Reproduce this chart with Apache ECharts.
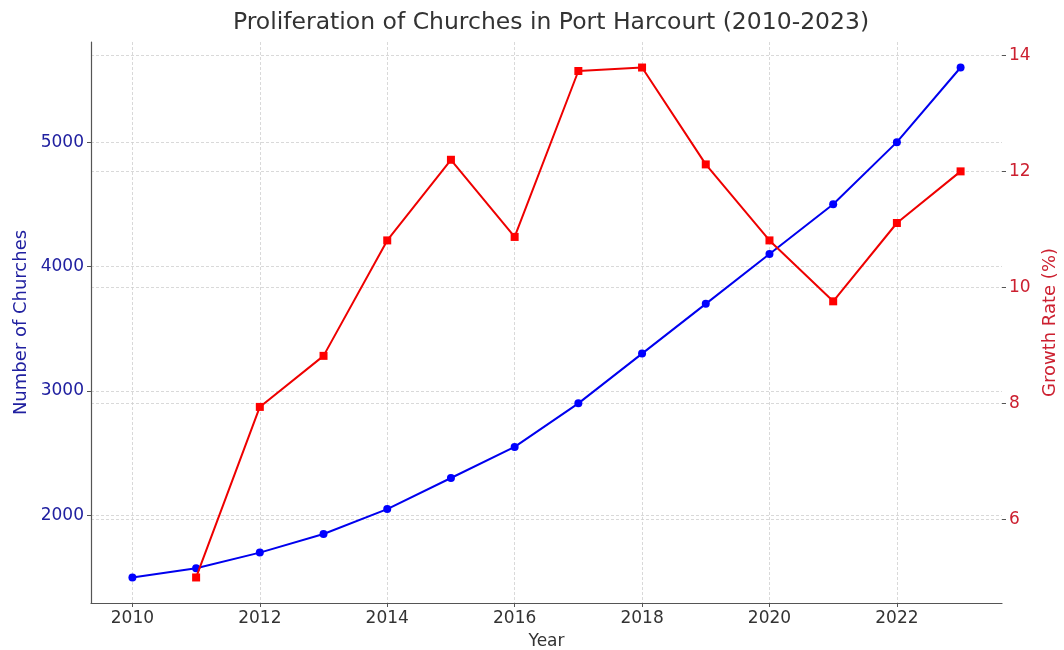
<!DOCTYPE html>
<html>
<head>
<meta charset="utf-8">
<script src="https://cdn.jsdelivr.net/npm/echarts@6/dist/echarts.min.js"></script>
<style>html,body{margin:0;padding:0;background:#fff}#c{width:1064px;height:650px}</style>
</head>
<body>
<div id="c"></div>
<script>
const years = [2010, 2011, 2012, 2013, 2014, 2015, 2016, 2017, 2018, 2019, 2020, 2021, 2022, 2023];
const churches = [1500, 1575, 1700, 1850, 2050, 2300, 2550, 2900, 3300, 3700, 4100, 4500, 5000, 5600];
const growthRate = [null, 5.0, 7.94, 8.82, 10.81, 12.20, 10.87, 13.73, 13.79, 12.12, 10.81, 9.76, 11.11, 12.0];
const xTicks = [2010, 2012, 2014, 2016, 2018, 2020, 2022];
const leftTicks = [2000, 3000, 4000, 5000];
const rightTicks = [6, 8, 10, 12, 14];

const font = 'DejaVu Sans';
const gridLine = { show: true, lineStyle: { color: '#cfcfcf', type: [3, 2], width: 0.8 } };

const chart = echarts.init(document.getElementById('c'), null, { renderer: 'canvas' });
chart.setOption({
  animation: false,
  backgroundColor: '#fff',
  title: {
    text: 'Proliferation of Churches in Port Harcourt (2010-2023)',
    left: 546, top: 6, textAlign: 'center',
    textStyle: { fontFamily: font, fontSize: 23.5, fontWeight: 'normal', color: '#333' }
  },
  grid: { left: 91, right: 62, top: 42, bottom: 47, containLabel: false, outerBoundsMode: 'none' },
  xAxis: {
    type: 'value', min: 2009.35, max: 2023.65,
    name: 'Year', nameLocation: 'middle', nameGap: 30,
    nameTextStyle: { fontFamily: font, fontSize: 17, color: '#333' },
    axisLine: { show: true, lineStyle: { color: '#555', width: 1.2 } },
    axisTick: { show: true, length: 4, inside: false, customValues: xTicks, lineStyle: { color: '#555' } },
    axisLabel: { customValues: xTicks, fontFamily: font, fontSize: 17, color: '#333', margin: 7,
      formatter: v => String(Math.round(v)) },
    splitLine: gridLine
  },
  yAxis: [
    {
      type: 'value', min: 1295, max: 5805, position: 'left',
      name: 'Number of Churches', nameLocation: 'middle', nameGap: 56, nameRotate: 90,
      nameTextStyle: { fontFamily: font, fontSize: 18, color: '#2020a0' },
      axisLine: { show: true, lineStyle: { color: '#555', width: 1.2 } },
      axisTick: { show: true, length: 4, customValues: leftTicks, lineStyle: { color: '#555' } },
      axisLabel: { customValues: leftTicks, fontFamily: font, fontSize: 17, color: '#2020a0', margin: 7,
        formatter: v => String(Math.round(v)) },
      splitLine: gridLine
    },
    {
      type: 'value', min: 4.56, max: 14.23, position: 'right',
      name: 'Growth Rate (%)', nameLocation: 'middle', nameGap: 33, nameRotate: 90,
      nameTextStyle: { fontFamily: font, fontSize: 18, color: '#cc2030' },
      axisLine: { show: false },
      axisTick: { show: true, length: 4, customValues: rightTicks, lineStyle: { color: '#555' } },
      axisLabel: { customValues: rightTicks, fontFamily: font, fontSize: 17, color: '#cc2030', margin: 7,
        formatter: v => String(Math.round(v)) },
      splitLine: gridLine
    }
  ],
  series: [
    {
      type: 'line', name: 'Number of Churches', yAxisIndex: 0,
      data: years.map((y, i) => [y, churches[i]]),
      symbol: 'circle', symbolSize: 8,
      lineStyle: { color: '#0000ee', width: 2 },
      itemStyle: { color: '#0000ff' },
      z: 3
    },
    {
      type: 'line', name: 'Growth Rate (%)', yAxisIndex: 1,
      data: years.map((y, i) => [y, growthRate[i]]),
      symbol: 'rect', symbolSize: 8,
      lineStyle: { color: '#ee0000', width: 2 },
      itemStyle: { color: '#ff0000' },
      connectNulls: false,
      z: 4
    }
  ]
});
</script>
</body>
</html>
